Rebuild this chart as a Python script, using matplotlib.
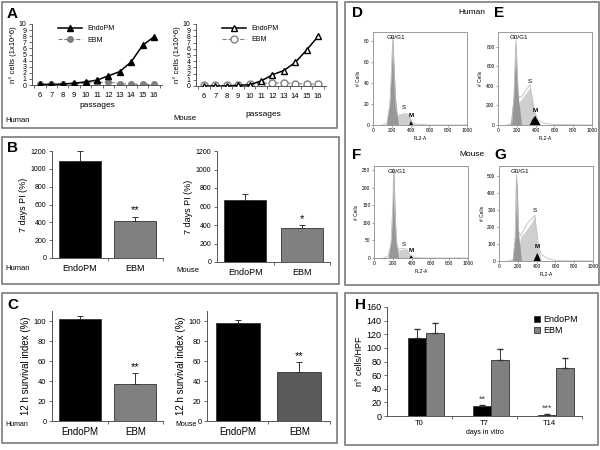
import matplotlib.pyplot as plt
import numpy as np
from matplotlib.patches import Rectangle

plt.rcParams['font.family'] = ['Liberation Sans', 'DejaVu Sans']

W, H = 600, 450

# --- A: growth curves ---
passages = [6, 7, 8, 9, 10, 11, 12, 13, 14, 15, 16]
human_endo = [0.1, 0.1, 0.15, 0.3, 0.5, 0.8, 1.5, 2.2, 3.8, 6.5, 7.9]
human_ebm = [0.1, 0.1, 0.15, 0.2, 0.3, 0.4, 0.5, 0.2, 0.15, 0.1, 0.1]
mouse_endo = [0.0, 0.0, 0.0, 0.1, 0.2, 0.8, 1.8, 2.5, 3.8, 5.8, 8.0]
mouse_ebm = [0.1, 0.1, 0.1, 0.2, 0.3, 0.4, 0.5, 0.5, 0.4, 0.3, 0.3]

# --- B: 7 days proliferation index ---
groups = ['EndoPM', 'EBM']
b_human = [1085, 420]
b_human_err = [110, 45]
b_mouse = [665, 365]
b_mouse_err = [65, 30]

# --- C: 12 h survival index ---
c_human = [102, 37]
c_human_err = [3, 11]
c_mouse = [98, 49]
c_mouse_err = [3, 10]

# --- D-G: cell cycle histograms (FL2-A, # cells) ---
hist = {
    'D': dict(
        out_x=[100, 150, 180, 200, 210, 220, 240, 260, 300, 350, 380, 400, 420, 450, 500, 600, 1000],
        out_y=[0, 2, 20, 60, 85, 60, 20, 9, 10, 11, 10, 5, 2, 1, 0.5, 0, 0],
        g_x=[140, 180, 210, 240, 270], g_y=[0, 25, 85, 25, 0],
        s_x=[180, 250, 300, 350, 380, 420, 450], s_y=[0, 9, 10, 11, 10, 3, 0],
        m_x=[380, 400, 420], m_y=[0, 5, 0],
        ymax=89, yticks=[0, 20, 40, 60, 80], s_lab=(330, 14), m_lab=(405, 7)),
    'E': dict(
        out_x=[100, 150, 170, 190, 200, 215, 230, 260, 300, 340, 360, 380, 400, 430, 480, 600, 1000],
        out_y=[0, 20, 300, 870, 600, 320, 280, 300, 360, 410, 300, 150, 110, 50, 20, 5, 0],
        g_x=[130, 165, 190, 215, 250], g_y=[0, 300, 870, 300, 0],
        s_x=[170, 230, 300, 340, 370, 400, 440], s_y=[0, 240, 330, 380, 250, 80, 0],
        m_x=[330, 360, 390, 420, 450], m_y=[0, 60, 100, 50, 0],
        ymax=950, yticks=[0, 200, 400, 600, 800], s_lab=(335, 420), m_lab=(395, 120)),
    'F': dict(
        out_x=[100, 150, 180, 200, 210, 220, 240, 260, 300, 350, 380, 400, 420, 450, 550, 1000],
        out_y=[0, 5, 40, 150, 255, 140, 40, 25, 28, 25, 10, 8, 3, 1, 0, 0],
        g_x=[150, 185, 210, 235, 260], g_y=[0, 60, 255, 60, 0],
        s_x=[190, 250, 300, 340, 370, 420], s_y=[0, 22, 25, 25, 12, 0],
        m_x=[370, 390, 410], m_y=[0, 9, 0],
        ymax=262, yticks=[0, 50, 100, 150, 200, 250], s_lab=(315, 32), m_lab=(395, 14)),
    'G': dict(
        out_x=[100, 150, 170, 185, 195, 210, 230, 260, 300, 350, 380, 400, 420, 450, 500, 550, 600, 1000],
        out_y=[0, 10, 120, 510, 300, 170, 150, 180, 220, 250, 270, 180, 90, 40, 20, 10, 2, 0],
        g_x=[140, 170, 190, 210, 240], g_y=[0, 150, 510, 150, 0],
        s_x=[180, 230, 300, 350, 380, 410, 450], s_y=[0, 140, 190, 230, 265, 100, 0],
        m_x=[360, 385, 400, 420, 440], m_y=[0, 30, 50, 30, 0],
        ymax=560, yticks=[0, 100, 200, 300, 400, 500], s_lab=(385, 285), m_lab=(410, 70)),
}

# --- H: cells per HPF ---
days = ['T0', 'T7', 'T14']
h_endo = [115, 14, 2]
h_endo_err = [12, 2, 1]
h_ebm = [122, 82, 71]
h_ebm_err = [14, 16, 14]

fig = plt.figure(figsize=(6, 4.5), dpi=100)


def px_axes(x0, y0, x1, y1):
    return fig.add_axes([x0 / W, 1 - y1 / H, (x1 - x0) / W, (y1 - y0) / H])


def px_text(x, y, s, **kw):
    fig.text(x / W, 1 - y / H, s, **kw)


def px_box(x0, y0, x1, y1):
    fig.add_artist(Rectangle((x0 / W, 1 - y1 / H), (x1 - x0) / W, (y1 - y0) / H,
                             transform=fig.transFigure, fill=False, ec='#707070', lw=1.1))


def excel_axes(ax, fs):
    for s in ['top', 'right']:
        ax.spines[s].set_visible(False)
    for s in ['left', 'bottom']:
        ax.spines[s].set_color('#555555')
        ax.spines[s].set_linewidth(0.7)
    ax.tick_params(axis='y', labelsize=fs, length=2.5, width=0.6, color='#555555', pad=1.5)
    ax.tick_params(axis='x', which='major', length=0, labelsize=fs + 1.5, pad=4)
    ax.tick_params(axis='x', which='minor', length=2.5, width=0.6, color='#555555')


def growth(ax, endo, ebm, hollow):
    ax.plot(passages, ebm, ls='--', color='#808080', lw=0.8, marker='o',
            ms=5 if hollow else 4, mfc='white' if hollow else '#808080', mec='#808080',
            label='EBM', zorder=2)
    ax.plot(passages, endo, color='black', lw=1.1, marker='^', ms=4.5,
            mfc='white' if hollow else 'black', mec='black', label='EndoPM', zorder=3)
    ax.set_xlim(5.3, 16.7)
    ax.set_ylim(0, 10)
    ax.set_yticks(range(11))
    ax.set_xticks(passages)
    ax.set_xticks(np.arange(5.5, 17, 1), minor=True)
    excel_axes(ax, 5)
    ax.tick_params(axis='x', which='major', labelsize=5.5, pad=5)
    ax.set_ylabel('n° cells (1x10^6)', fontsize=5.5, labelpad=1)
    h, l = ax.get_legend_handles_labels()
    ax.legend(h[::-1], l[::-1], loc='upper left', bbox_to_anchor=(0.15, 1.08), frameon=False,
              fontsize=5, handlelength=3.5, labelspacing=0.6)


def bar_pair(ax, vals, errs, colors, stars, ymax, yticks, ylabel, fs, width=0.75):
    x = [0, 1]
    ax.bar(x, vals, width=width, color=colors, edgecolor='#333333', lw=0.6)
    ax.errorbar(x, vals, yerr=[[0, 0], errs], fmt='none', ecolor='#333333',
                capsize=2, elinewidth=0.7, capthick=0.7)
    ax.text(1, vals[1] + errs[1] + ymax * 0.01, stars, ha='center', va='bottom', fontsize=8)
    ax.set_xlim(-0.5, 1.5)
    ax.set_ylim(0, ymax)
    ax.set_yticks(yticks)
    ax.set_xticks(x)
    ax.set_xticklabels(groups)
    ax.set_xticks([0.5, 1.5], minor=True)
    excel_axes(ax, fs)
    ax.set_ylabel(ylabel, fontsize=fs + 1.5, labelpad=2)


def histo(ax, d):
    ax.fill_between(d['s_x'], d['s_y'], color='#cfcfcf', lw=0)
    ax.fill_between(d['g_x'], d['g_y'], color='#979797', lw=0)
    ax.fill_between(d['m_x'], d['m_y'], color='black', lw=0)
    ax.plot(d['out_x'], d['out_y'], color='#bdbdbd', lw=0.6)
    ax.set_xlim(0, 1000)
    ax.set_ylim(0, d['ymax'])
    ax.set_yticks(d['yticks'])
    ax.set_xticks(range(0, 1001, 200))
    for s in ax.spines.values():
        s.set_color('#9a9a9a')
        s.set_linewidth(0.7)
    ax.tick_params(labelsize=3.5, length=1.5, width=0.5, color='#777777', pad=1)
    ax.set_xlabel('FL2-A', fontsize=3.5, labelpad=2)
    ax.set_ylabel('# Cells', fontsize=3.5, labelpad=2)
    peak = int(np.argmax(d['g_y']))
    ax.text(d['g_x'][peak] + 30, d['ymax'] * 0.97, 'G0/G1', fontsize=4.5, ha='center', va='top')
    ax.text(*d['s_lab'], 'S', fontsize=4.5, ha='center', va='bottom')
    ax.text(*d['m_lab'], 'M', fontsize=4.5, ha='center', va='bottom', fontweight='bold')


# panel boxes
px_box(2, 2, 337, 128)
px_box(2, 137, 339, 284)
px_box(2, 293, 337, 443)
px_box(345, 2, 599, 285)
px_box(345, 293, 598, 445)

# A
px_text(7, 14, 'A', fontsize=11, fontweight='bold', va='center')
ax_a1 = px_axes(32, 24, 162, 85)
growth(ax_a1, human_endo, human_ebm, False)
ax_a1.set_xlabel('passages', fontsize=6, labelpad=2)
px_text(5, 120, 'Human', fontsize=5.5, va='center')
ax_a2 = px_axes(196, 24, 326, 86)
growth(ax_a2, mouse_endo, mouse_ebm, True)
px_text(173, 118, 'Mouse', fontsize=5.5, va='center')
px_text(263, 115, 'passages', fontsize=6, ha='center', va='center')

# B
px_text(7, 148, 'B', fontsize=11, fontweight='bold', va='center')
ax_b1 = px_axes(52, 151, 163, 258)
bar_pair(ax_b1, b_human, b_human_err, ['black', '#808080'], '**', 1200,
         range(0, 1201, 200), '7 days PI (%)', 5)
px_text(5, 269, 'Human', fontsize=5.5, va='center')
ax_b2 = px_axes(217, 151, 330, 262)
bar_pair(ax_b2, b_mouse, b_mouse_err, ['black', '#808080'], '*', 1200,
         range(0, 1201, 200), '7 days PI (%)', 5)
px_text(176, 271, 'Mouse', fontsize=5.5, va='center')

# C
px_text(7, 305, 'C', fontsize=11, fontweight='bold', va='center')
ax_c1 = px_axes(52, 311, 163, 421)
bar_pair(ax_c1, c_human, c_human_err, ['black', '#808080'], '**', 110,
         range(0, 101, 20), '12 h survival index (%)', 5.5)
px_text(5, 424, 'Human', fontsize=5, va='center')
ax_c2 = px_axes(207, 311, 330, 421)
bar_pair(ax_c2, c_mouse, c_mouse_err, ['black', '#5a5a5a'], '**', 110,
         range(0, 101, 20), '12 h survival index (%)', 5.5, width=0.72)
px_text(175, 424, 'Mouse', fontsize=5, va='center')

# D-G
px_text(352, 13, 'D', fontsize=11, fontweight='bold', va='center')
px_text(494, 13, 'E', fontsize=11, fontweight='bold', va='center')
px_text(352, 155, 'F', fontsize=11, fontweight='bold', va='center')
px_text(494, 155, 'G', fontsize=11, fontweight='bold', va='center')
px_text(472, 13, 'Human', fontsize=6, ha='center', va='center')
px_text(472, 155, 'Mouse', fontsize=6, ha='center', va='center')
histo(px_axes(373, 32, 467, 125), hist['D'])
histo(px_axes(498, 32, 592, 125), hist['E'])
histo(px_axes(374, 166, 468, 258), hist['F'])
histo(px_axes(499, 166, 593, 261), hist['G'])

# H
px_text(355, 305, 'H', fontsize=11, fontweight='bold', va='center')
ax_h = px_axes(387, 307, 582, 416)
xh = np.arange(len(days))
bw = 0.28
ax_h.bar(xh - bw / 2 + 0.1, h_endo, bw, color='black', edgecolor='#333333', lw=0.6, label='EndoPM')
ax_h.bar(xh + bw / 2 + 0.1, h_ebm, bw, color='#808080', edgecolor='#333333', lw=0.6, label='EBM')
ax_h.errorbar(xh - bw / 2 + 0.1, h_endo, yerr=[[0] * 3, h_endo_err], fmt='none',
              ecolor='#333333', capsize=2, elinewidth=0.7)
ax_h.errorbar(xh + bw / 2 + 0.1, h_ebm, yerr=[[0] * 3, h_ebm_err], fmt='none',
              ecolor='#333333', capsize=2, elinewidth=0.7)
for i, st in [(1, '**'), (2, '***')]:
    ax_h.text(xh[i] - bw / 2 + 0.1, h_endo[i] + h_endo_err[i] + 2, st,
              ha='center', va='bottom', fontsize=6.5, color='#444444')
ax_h.set_xlim(-0.5, 2.5)
ax_h.set_ylim(0, 160)
ax_h.set_yticks(range(0, 161, 20))
ax_h.set_xticks(xh)
ax_h.set_xticklabels(days)
ax_h.set_xticks([0.5, 1.5, 2.5], minor=True)
excel_axes(ax_h, 6.5)
ax_h.tick_params(axis='x', which='major', labelsize=5.5, pad=3)
ax_h.set_ylabel('n° cells/HPF', fontsize=6.5, labelpad=2)
ax_h.set_xlabel('days in vitro', fontsize=5, labelpad=1)
ax_h.legend(loc='upper right', bbox_to_anchor=(1.02, 1.0), frameon=False, fontsize=6.5,
            handlelength=0.7, handleheight=0.7, handletextpad=0.3, labelspacing=0.2)

fig.savefig('out.png', dpi=100)
